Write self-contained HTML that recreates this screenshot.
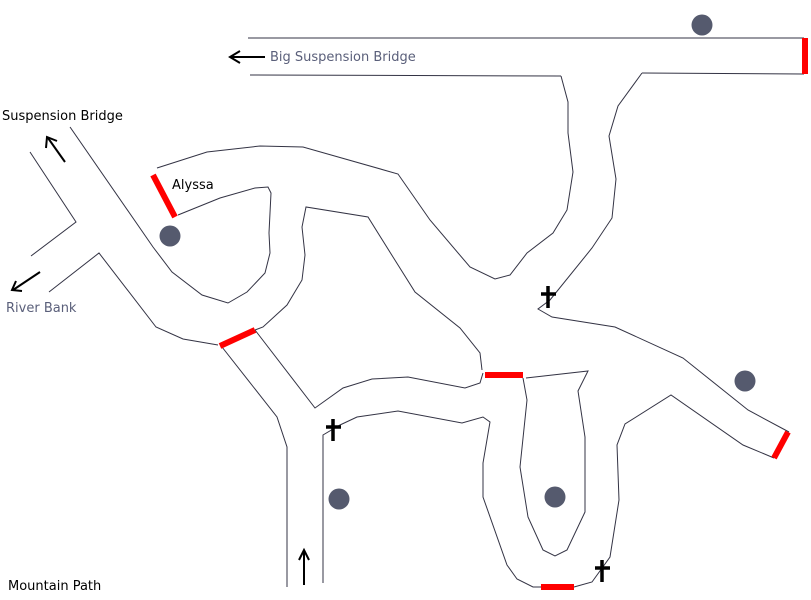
<!DOCTYPE html>
<html><head><meta charset="utf-8"><style>
html,body{margin:0;padding:0;background:#fff;}
svg{display:block;}
text{font-family:"DejaVu Sans","Liberation Sans",sans-serif;font-size:13px;}
</style></head><body>
<svg width="811" height="600" viewBox="0 0 811 600" xmlns="http://www.w3.org/2000/svg">
<g fill="none" stroke="#333344" stroke-width="1">
<polyline points="248,38 804,38"/>
<polyline points="250,75 561,76"/>
<polyline points="642,73 804,74"/>
<polyline points="561,76 568,102 568,133 573,172 567,210 553,233 527,253 510,275 495,279 470,267 430,220 398,174 303,147 260,146 207,152 157,168"/>
<polyline points="642,73 618,106 609,136 616,179 612,218 592,248 550,300 538,309 552,317 615,327 683,358 748,410 789,432"/>
<polyline points="774,458 743,445 671,395 625,424 617,445 619,500 610,557 592,582 574,587"/>
<polyline points="541,587 533,587 517,579 507,565 483,497 483,463 490,422 483,417 462,423 398,411 357,417 340,425 323,435 323,583"/>
<polyline points="287,587 287,447 277,417 222,347"/>
<polyline points="255,330 315,408 343,388 372,379 408,377 465,388 480,383 483,373"/>
<polyline points="526,378 588,371 578,391 585,437 585,512 567,550 555,556 543,550 528,517 520,467 527,400 523,378"/>
<polyline points="482,370 480,353 460,328 415,292 393,257 368,217 306,207 302,227 305,255 302,280 287,305 263,327 255,330"/>
<polyline points="178,215 220,198 255,188 268,187 271,193 269,233 270,253 265,273 247,292 228,303 202,295 172,272 153,247 70,127"/>
<polyline points="30,152 76,222 31,256"/>
<polyline points="49,292 99,253 156,327 183,339 218,345"/>
</g>
<g stroke="#ff0000" stroke-width="6" fill="none">
<line x1="805" y1="38" x2="805" y2="74"/>
<line x1="788" y1="432" x2="774" y2="458"/>
<line x1="541" y1="587" x2="574" y2="587"/>
<line x1="485" y1="375" x2="523" y2="375"/>
<line x1="220" y1="346" x2="255" y2="330"/>
<line x1="153" y1="175" x2="175" y2="217"/>
</g>
<g fill="#555a6e">
<circle cx="702" cy="25" r="10.5"/>
<circle cx="170" cy="236" r="10.5"/>
<circle cx="745" cy="381" r="10.5"/>
<circle cx="339" cy="499" r="10.5"/>
<circle cx="555" cy="497" r="10.5"/>
</g>
<g stroke="#000" stroke-width="3.5">
<line x1="548" y1="286" x2="548" y2="308"/><line x1="541" y1="294" x2="556" y2="294"/>
<line x1="333" y1="419" x2="333" y2="441"/><line x1="326" y1="427" x2="341" y2="427"/>
<line x1="602" y1="560" x2="602" y2="582"/><line x1="595" y1="568" x2="610" y2="568"/>
</g>
<g stroke="#000" stroke-width="2" fill="none">
<line x1="265" y1="57" x2="231" y2="57"/><polyline points="240,51 230,57 240,63"/>
<line x1="65" y1="162" x2="48" y2="138"/><polyline points="46,148 47,137 57,141"/>
<line x1="40" y1="272" x2="13" y2="290"/><polyline points="16,281 12,290 22,291"/>
<line x1="304" y1="585" x2="304" y2="551"/><polyline points="299,560 304,550 309,560"/>
</g>
<text x="2" y="120" fill="#000">Suspension Bridge</text>
<text x="270" y="61" fill="#5a5f7a">Big Suspension Bridge</text>
<text x="172" y="189" fill="#000">Alyssa</text>
<text x="6" y="312" fill="#5a5f7a">River Bank</text>
<text x="8" y="590" fill="#000">Mountain Path</text>
</svg>
</body></html>
